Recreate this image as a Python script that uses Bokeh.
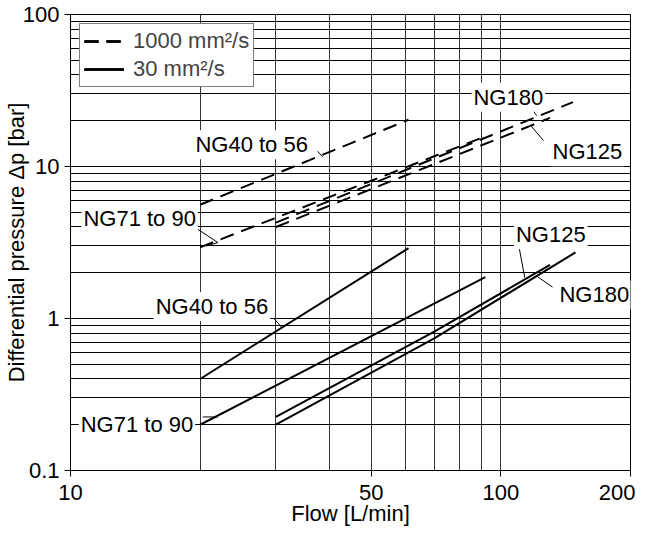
from bokeh.plotting import figure
from bokeh.models import FixedTicker, CustomJSTickFormatter, Label, Legend, LegendItem
from bokeh.embed import file_html
from bokeh.resources import INLINE

# ---- data ----
# 1000 mm2/s (dashed)
q_ng40_56_1000 = [20, 61]
dp_ng40_56_1000 = [5.6, 20.3]
q_ng71_90_1000 = [20, 90]
dp_ng71_90_1000 = [2.94, 15.4]
q_ng125_1000 = [30, 117, 130]
dp_ng125_1000 = [4.0, 18.5, 20.9]
q_ng180_1000 = [30, 147]
dp_ng180_1000 = [4.27, 26.5]
# 30 mm2/s (solid)
q_ng40_56_30 = [20, 61]
dp_ng40_56_30 = [0.4, 2.9]
q_ng71_90_30 = [20, 92]
dp_ng71_90_30 = [0.2, 1.87]
q_ng125_30 = [30, 70, 130]
dp_ng125_30 = [0.225, 0.82, 2.25]
q_ng180_30 = [30, 70, 149]
dp_ng180_30 = [0.2, 0.74, 2.72]

x_ticks = [10, 50, 100, 200]
x_minor = [20, 30, 40, 60, 70, 80, 90]
y_ticks = [0.1, 1, 10, 100]
y_minor = [0.2, 0.3, 0.4, 0.5, 0.6, 0.7, 0.8, 0.9,
           2, 3, 4, 5, 6, 7, 8, 9,
           20, 30, 40, 50, 60, 70, 80, 90]

series_labels = ["1000 mm²/s", "30 mm²/s"]

# annotation labels: text, x, y (data coords, left/middle anchored)
label_texts = ["NG40 to 56", "NG71 to 90", "NG180", "NG125",
               "NG40 to 56", "NG71 to 90", "NG125", "NG180"]
label_x = [19.3, 10.6, 85.4, 130.4, 15.6, 10.45, 107.2, 135.3]
label_y = [13.9, 4.53, 28.6, 12.5, 1.2, 0.2, 3.56, 1.43]
# leader lines (polylines)
leader_xs = [[37.5, 38.5], [19.05, 22.0, 20.7], [117.3, 121.1], [117.3, 125.6],
             [29.7, 31.0], [20.3, 22.0], [110.1, 113.6], [131.8, 121.7]]
leader_ys = [[12.6, 11.6], [4.14, 3.16, 3.0], [24.5, 21.6], [18.6, 14.8],
             [1.0, 0.87], [0.225, 0.225], [2.98, 1.86], [1.61, 1.88]]

FONT = "Liberation Sans"
FS = "22px"

p = figure(width=641, height=528, x_axis_type="log", y_axis_type="log",
           x_range=(10, 200), y_range=(0.1, 100),
           output_backend="svg", toolbar_location=None,
           min_border_left=69, min_border_right=11, min_border_top=14, min_border_bottom=58)

p.outline_line_color = "black"
p.outline_line_width = 1

xt = FixedTicker(ticks=x_ticks, minor_ticks=x_minor)
yt = FixedTicker(ticks=y_ticks, minor_ticks=y_minor)
p.xaxis.ticker = xt
p.yaxis.ticker = yt
p.xgrid.ticker = xt
p.ygrid.ticker = yt
# the last x label is nudged left (as in the reference) so it stays inside the page
p.xaxis.formatter = CustomJSTickFormatter(
    code="return tick == 200 ? '200\\u00a0' : tick.toString();")
p.yaxis.formatter = CustomJSTickFormatter(code="return tick.toString();")

for g in (p.xgrid, p.ygrid):
    g.grid_line_color = "black"
    g.grid_line_width = 1
    g.minor_grid_line_color = "black"
    g.minor_grid_line_width = 1
p.xgrid.grid_line_color = "#333333"
p.xgrid.minor_grid_line_color = "#333333"

for ax in (p.xaxis, p.yaxis):
    ax.axis_line_color = "black"
    ax.major_tick_out = 6
    ax.major_tick_in = 0
    ax.minor_tick_out = 0
    ax.minor_tick_in = 0
    ax.major_tick_line_color = "black"
    ax.major_label_text_font = FONT
    ax.major_label_text_font_size = FS
    ax.major_label_text_color = "black"
    ax.axis_label_text_font = FONT
    ax.axis_label_text_font_size = FS
    ax.axis_label_text_font_style = "normal"
    ax.axis_label_text_color = "black"

p.xaxis.axis_label = "Flow [L/min]"
p.yaxis.axis_label = "Differential pressure Δp [bar]"
p.xaxis.major_label_standoff = 3
p.yaxis.major_label_standoff = 5
p.xaxis.axis_label_standoff = -7
p.yaxis.axis_label_standoff = -9

DASH = "14 8"
dashed = []
for q, dp in [(q_ng40_56_1000, dp_ng40_56_1000), (q_ng71_90_1000, dp_ng71_90_1000),
              (q_ng125_1000, dp_ng125_1000), (q_ng180_1000, dp_ng180_1000)]:
    dashed.append(p.line(q, dp, line_color="black", line_width=2, line_dash=DASH))
solid = []
for q, dp in [(q_ng40_56_30, dp_ng40_56_30), (q_ng71_90_30, dp_ng71_90_30),
              (q_ng125_30, dp_ng125_30), (q_ng180_30, dp_ng180_30)]:
    solid.append(p.line(q, dp, line_color="black", line_width=2))

for t, x, y in zip(label_texts, label_x, label_y):
    p.add_layout(Label(x=x, y=y, text=t, text_font=FONT, text_font_size=FS,
                       text_align="left", text_baseline="middle", text_color="black",
                       background_fill_color="white", background_fill_alpha=1.0, padding=2))

p.multi_line(leader_xs, leader_ys, line_color="black", line_width=1)

legend = Legend(items=[LegendItem(label=series_labels[0], renderers=dashed),
                       LegendItem(label=series_labels[1], renderers=solid)],
                location="top_left", margin=9, padding=4, spacing=2,
                glyph_width=40, glyph_height=22, label_height=22, label_standoff=9,
                label_text_font=FONT, label_text_font_size=FS,
                border_line_color="black", border_line_width=1,
                background_fill_color="white", background_fill_alpha=1.0)
p.add_layout(legend)

open("out.html", "w").write(file_html(p, INLINE))
